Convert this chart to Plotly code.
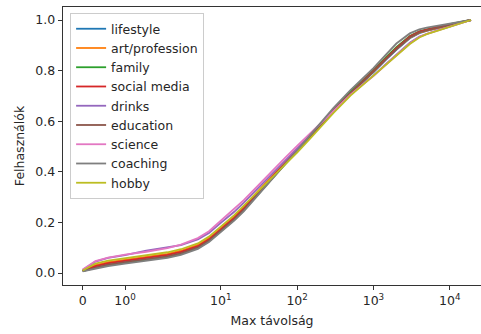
import math
import plotly.graph_objects as go

# ---- data ----
distances = [0, 0.3, 0.6, 1, 1.5, 2, 3, 5, 7, 10, 15, 20, 30, 50, 70, 100, 150, 200,
             300, 500, 700, 1000, 1500, 2000, 3000, 4000, 5000, 7000, 10000, 14000, 19000]

lifestyle = [0.008, 0.027, 0.039, 0.049, 0.060, 0.072, 0.084, 0.107, 0.134, 0.174, 0.219, 0.256,
             0.314, 0.388, 0.436, 0.486, 0.543, 0.584, 0.643, 0.711, 0.751, 0.793, 0.846, 0.882,
             0.928, 0.948, 0.957, 0.969, 0.980, 0.991, 1.0]
art_profession = [0.010, 0.031, 0.043, 0.053, 0.064, 0.076, 0.088, 0.111, 0.138, 0.178, 0.223, 0.262,
                  0.321, 0.393, 0.439, 0.489, 0.546, 0.587, 0.645, 0.713, 0.754, 0.796, 0.849, 0.885,
                  0.930, 0.950, 0.958, 0.969, 0.980, 0.991, 1.0]
family = [0.007, 0.021, 0.031, 0.041, 0.052, 0.064, 0.076, 0.099, 0.126, 0.165, 0.210, 0.248,
          0.308, 0.383, 0.431, 0.483, 0.542, 0.585, 0.646, 0.716, 0.757, 0.802, 0.856, 0.893,
          0.937, 0.955, 0.963, 0.974, 0.984, 0.993, 1.0]
social_media = [0.008, 0.027, 0.039, 0.049, 0.060, 0.072, 0.084, 0.106, 0.133, 0.172, 0.218, 0.255,
                0.315, 0.388, 0.434, 0.484, 0.541, 0.583, 0.644, 0.712, 0.753, 0.799, 0.853, 0.889,
                0.935, 0.954, 0.962, 0.972, 0.982, 0.992, 1.0]
drinks = [0.012, 0.045, 0.060, 0.071, 0.088, 0.100, 0.110, 0.133, 0.158, 0.198, 0.242, 0.278,
          0.332, 0.402, 0.446, 0.494, 0.548, 0.587, 0.641, 0.706, 0.743, 0.780, 0.829, 0.863,
          0.910, 0.935, 0.946, 0.960, 0.974, 0.988, 1.0]
education = [0.007, 0.021, 0.033, 0.043, 0.054, 0.066, 0.078, 0.101, 0.128, 0.168, 0.213, 0.250,
             0.310, 0.384, 0.431, 0.481, 0.539, 0.581, 0.643, 0.711, 0.752, 0.796, 0.849, 0.885,
             0.931, 0.951, 0.959, 0.970, 0.981, 0.991, 1.0]
science = [0.014, 0.047, 0.061, 0.073, 0.084, 0.098, 0.112, 0.138, 0.165, 0.206, 0.251, 0.288,
           0.342, 0.412, 0.456, 0.502, 0.553, 0.590, 0.643, 0.705, 0.741, 0.778, 0.827, 0.861,
           0.907, 0.933, 0.945, 0.959, 0.974, 0.988, 1.0]
coaching = [0.006, 0.017, 0.027, 0.037, 0.048, 0.060, 0.072, 0.095, 0.122, 0.162, 0.207, 0.244,
            0.304, 0.380, 0.430, 0.484, 0.547, 0.592, 0.653, 0.723, 0.765, 0.810, 0.867, 0.907,
            0.947, 0.963, 0.970, 0.978, 0.986, 0.994, 1.0]
hobby = [0.010, 0.037, 0.049, 0.059, 0.070, 0.082, 0.094, 0.117, 0.144, 0.184, 0.229, 0.266,
         0.318, 0.386, 0.428, 0.476, 0.533, 0.574, 0.633, 0.701, 0.739, 0.778, 0.827, 0.859,
         0.905, 0.931, 0.944, 0.958, 0.973, 0.988, 1.0]

series_names = ["lifestyle", "art/profession", "family", "social media", "drinks",
                "education", "science", "coaching", "hobby"]
series_values = [lifestyle, art_profession, family, social_media, drinks,
                 education, science, coaching, hobby]
colors = ["#1f77b4", "#ff7f0e", "#2ca02c", "#d62728", "#9467bd",
          "#8c564b", "#e377c2", "#7f7f7f", "#bcbd22"]

tick_values = [0, 1, 10, 100, 1000, 10000]
tick_labels = ["0", "10<sup>0</sup>", "10<sup>1</sup>", "10<sup>2</sup>", "10<sup>3</sup>", "10<sup>4</sup>"]
y_ticks = [0.0, 0.2, 0.4, 0.6, 0.8, 1.0]

# ---- symmetric-log scale (linthresh=2, linscale=1, base 10) ----
LINTHRESH = 2.0
LINSCALE_ADJ = 1.0 / (1.0 - 1.0 / 10.0)


def symlog(v):
    a = abs(v)
    if a <= LINTHRESH:
        r = a / LINTHRESH * LINSCALE_ADJ
    else:
        r = LINSCALE_ADJ + math.log10(a / LINTHRESH)
    return r if v >= 0 else -r


xs = [symlog(d) for d in distances]

FONT = "DejaVu Sans"
FS = 12.5
TXT = "#262626"
AX = "#333333"

fig = go.Figure()
for name, vals, col in zip(series_names, series_values, colors):
    fig.add_trace(go.Scatter(x=xs, y=vals, mode="lines", name=name,
                             line=dict(color=col, width=1.8),
                             customdata=distances,
                             hovertemplate="%{customdata}: %{y}<extra>" + name + "</extra>"))

fig.update_layout(
    width=481, height=334,
    margin=dict(l=63, r=0, t=7, b=49),
    paper_bgcolor="white", plot_bgcolor="white",
    font=dict(family=FONT, size=FS, color=TXT),
    showlegend=True,
    legend=dict(x=0.017, y=0.978, xanchor="left", yanchor="top",
                bgcolor="rgba(255,255,255,0.8)", bordercolor="#cccccc", borderwidth=1,
                font=dict(family=FONT, size=FS, color=TXT),
                tracegroupgap=0),
    xaxis=dict(
        range=[-0.258, 5.220], autorange=False,
        tickmode="array", tickvals=[symlog(v) for v in tick_values], ticktext=tick_labels,
        showgrid=False, zeroline=False,
        showline=True, linecolor=AX, linewidth=1, mirror=True,
        ticks="outside", ticklen=4.4, tickwidth=1, tickcolor=AX,
        tickfont=dict(family=FONT, size=FS, color=TXT),
        title=dict(text="Max távolság", font=dict(family=FONT, size=FS, color=TXT), standoff=8),
        automargin=False,
    ),
    yaxis=dict(
        range=[-0.0474, 1.0514], autorange=False,
        tickmode="array", tickvals=y_ticks, ticktext=["%.1f" % v for v in y_ticks],
        showgrid=False, zeroline=False,
        showline=True, linecolor=AX, linewidth=1, mirror=False,
        ticks="outside", ticklen=4.4, tickwidth=1, tickcolor=AX,
        tickfont=dict(family=FONT, size=FS, color=TXT),
        title=dict(text="Felhasználók", font=dict(family=FONT, size=FS, color=TXT), standoff=7),
        automargin=False,
    ),
)

fig.write_html(
    "out.html",
    config={"displayModeBar": False},
    post_script="document.body.style.margin='0';document.body.style.padding='0';"
                "document.body.style.overflow='hidden';",
)
